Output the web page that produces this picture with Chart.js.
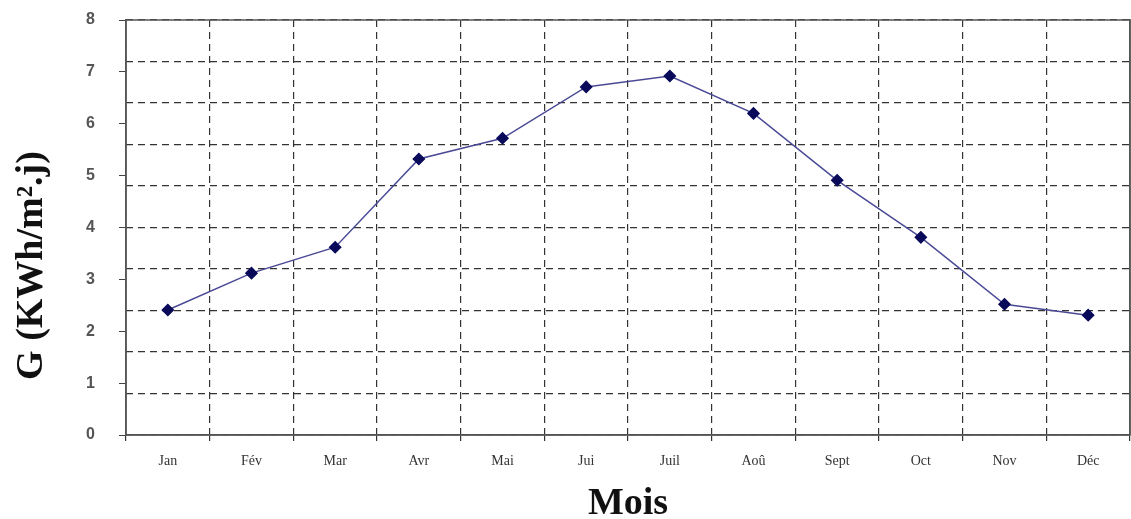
<!DOCTYPE html>
<html>
<head>
<meta charset="utf-8">
<script src="https://cdn.jsdelivr.net/npm/chart.js@4"></script>
<style>
  html, body { margin: 0; padding: 0; background: #fff; }
  #wrap { width: 1131px; height: 519px; }
</style>
</head>
<body>
<div id="wrap"><canvas id="myChart" width="1131" height="519"></canvas></div>
<script>
const months = ["Jan", "Fév", "Mar", "Avr", "Mai", "Jui", "Juil", "Aoû", "Sept", "Oct", "Nov", "Déc"];
// G values (KWh/m².j)
const irradiation = [2.41, 3.12, 3.62, 5.32, 5.72, 6.71, 6.92, 6.2, 4.91, 3.81, 2.52, 2.31];
const yTicks = [0, 1, 2, 3, 4, 5, 6, 7, 8];

// solid frame round the plot area
const frame = {
  id: "frame",
  afterDraw(chart) {
    const { ctx, chartArea: a } = chart;
    ctx.save();
    ctx.strokeStyle = "#555";
    ctx.lineWidth = 1.5;
    ctx.strokeRect(a.left, a.top, a.right - a.left, a.bottom - a.top);
    ctx.restore();
  },
};

const data = {
  labels: months,
  datasets: [
    {
      label: "G",
      data: irradiation,
      borderColor: "#4a4a96",
      borderWidth: 1.5,
      backgroundColor: "#0a0a5a",
      pointStyle: "rectRot",
      pointRadius: 5.5,
      pointBorderColor: "#0a0a5a",
      tension: 0,
      yAxisID: "y",
    },
  ],
};

const config = {
  type: "line",
  data: data,
  plugins: [frame],
  options: {
    responsive: false,
    animation: false,
    layout: { autoPadding: false, padding: { top: 20, right: 0, left: 0, bottom: 0 } },
    plugins: {
      legend: { display: false },
      tooltip: { enabled: false },
    },
    scales: {
      x: {
        offset: true,
        grid: {
          offset: true,
          color: "#333",
          lineWidth: 1.2,
          tickLength: 6,
          tickColor: "#333",
        },
        border: { color: "#555", width: 1.5, dash: [7, 5] },
        ticks: {
          color: "#333",
          padding: 12,
          font: { family: "Liberation Serif", size: 14 },
        },
        title: {
          display: true,
          text: "Mois",
          color: "#111",
          padding: { top: 0, bottom: 0 },
          font: { family: "Liberation Serif", size: 38, weight: "bold", lineHeight: 0.8 },
        },
        afterFit(scale) {
          scale.height = 84;
          scale.paddingLeft = 0;
          scale.paddingRight = 0;
        },
      },
      y: {
        min: 0,
        max: 8,
        afterBuildTicks(scale) { scale.ticks = yTicks.map((v) => ({ value: v })); },
        grid: { drawOnChartArea: false, tickLength: 7, tickColor: "#444" },
        border: { color: "#555", width: 1.5 },
        ticks: {
          color: "#555",
          padding: 24,
          font: { family: "Liberation Sans", size: 16, weight: "bold" },
        },
        title: {
          display: true,
          // trailing spaces push the label a little lower, as in the original
          text: "G (KWh/m².j)        ",
          color: "#111",
          padding: { top: 9, bottom: 0 },
          font: { family: "Liberation Serif", size: 38, weight: "bold" },
        },
        afterFit(scale) {
          scale.width = 126;
          scale.paddingTop = 0;
          scale.paddingBottom = 0;
        },
      },
      yGrid: {
        position: "right",
        min: 0,
        max: 8,
        ticks: { display: false, stepSize: 0.8 },
        grid: { color: "#333", lineWidth: 1.2, drawTicks: false },
        border: { color: "#555", width: 1.5, dash: [7, 5] },
        afterFit(scale) {
          scale.width = 1;
          scale.paddingTop = 0;
          scale.paddingBottom = 0;
        },
      },
    },
  },
};

const chart = new Chart(document.getElementById("myChart"), config);
</script>
</body>
</html>
